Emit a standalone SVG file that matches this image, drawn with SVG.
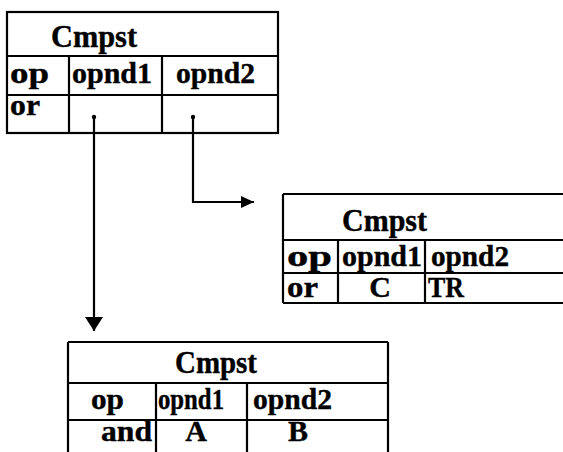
<svg xmlns="http://www.w3.org/2000/svg" width="563" height="452" viewBox="0 0 563 452">
<style>
.ln{stroke:#000;stroke-width:2.2;fill:none}
.t{font-family:"Liberation Serif","Times New Roman",serif;font-weight:bold;font-size:30px;fill:#000;stroke:#000;stroke-width:0.4}
.h{font-size:31px}
.c{text-anchor:middle}
.cn{stroke:#000;stroke-width:2.2;fill:none}
</style>
<defs>
<marker id="ad" markerUnits="userSpaceOnUse" markerWidth="16" markerHeight="18" refX="14" refY="9" orient="auto">
<path d="M0,0 L14,9 L0,18 z" fill="#000"/>
</marker>
<marker id="ar" markerUnits="userSpaceOnUse" markerWidth="14" markerHeight="12" refX="13" refY="6" orient="auto">
<path d="M0,0 L13,6 L0,12 z" fill="#000"/>
</marker>
</defs>
<rect width="563" height="452" fill="#fff"/>
<g id="cmpst-or-top">
<rect class="ln" x="7" y="12" width="271" height="121"/>
<path class="ln" d="M7 56H278M7 95H278M69 56V133M162 56V133"/>
<text class="t h" x="51" y="47" textLength="86" lengthAdjust="spacingAndGlyphs">Cmpst</text>
<text class="t" x="10" y="83" textLength="39" lengthAdjust="spacingAndGlyphs">op</text>
<text class="t" x="72" y="83" textLength="80" lengthAdjust="spacingAndGlyphs">opnd1</text>
<text class="t" x="176" y="83" textLength="79" lengthAdjust="spacingAndGlyphs">opnd2</text>
<text class="t" x="10" y="115" textLength="30" lengthAdjust="spacingAndGlyphs">or</text>
<circle cx="94" cy="117" r="2.2" fill="#000"/>
<circle cx="193" cy="117" r="2.2" fill="#000"/>
</g>
<g id="cmpst-or-right">
<path class="ln" d="M283 194H563M283 194V303M283 240H563M283 273H563M283 303H563M338 240V303M425 240V303"/>
<text class="t h" x="342" y="231" textLength="85" lengthAdjust="spacingAndGlyphs">Cmpst</text>
<text class="t" x="287" y="266" textLength="45" lengthAdjust="spacingAndGlyphs">op</text>
<text class="t" x="342" y="266" textLength="80" lengthAdjust="spacingAndGlyphs">opnd1</text>
<text class="t" x="431" y="266" textLength="78" lengthAdjust="spacingAndGlyphs">opnd2</text>
<text class="t" x="287" y="297" textLength="31" lengthAdjust="spacingAndGlyphs">or</text>
<text class="t c" x="380" y="297">C</text>
<text class="t" x="428" y="297" textLength="36" lengthAdjust="spacingAndGlyphs">TR</text>
</g>
<g id="cmpst-and">
<path class="ln" d="M68 342H388M68 342V452M388 342V452M68 383H388M68 420H388M156 383V452M247 383V452"/>
<text class="t h" x="175" y="373" textLength="82" lengthAdjust="spacingAndGlyphs">Cmpst</text>
<text class="t" x="91" y="409" textLength="33" lengthAdjust="spacingAndGlyphs">op</text>
<text class="t" x="158" y="409" textLength="66" lengthAdjust="spacingAndGlyphs">opnd1</text>
<text class="t" x="253" y="409" textLength="79" lengthAdjust="spacingAndGlyphs">opnd2</text>
<text class="t" x="101" y="441" textLength="51" lengthAdjust="spacingAndGlyphs">and</text>
<text class="t c" x="196" y="441">A</text>
<text class="t c" x="298" y="441">B</text>
</g>
<g id="connectors">
<path class="cn" d="M94 117V331" marker-end="url(#ad)"/>
<path class="cn" d="M193 117V202H254" marker-end="url(#ar)"/>
</g>
</svg>
